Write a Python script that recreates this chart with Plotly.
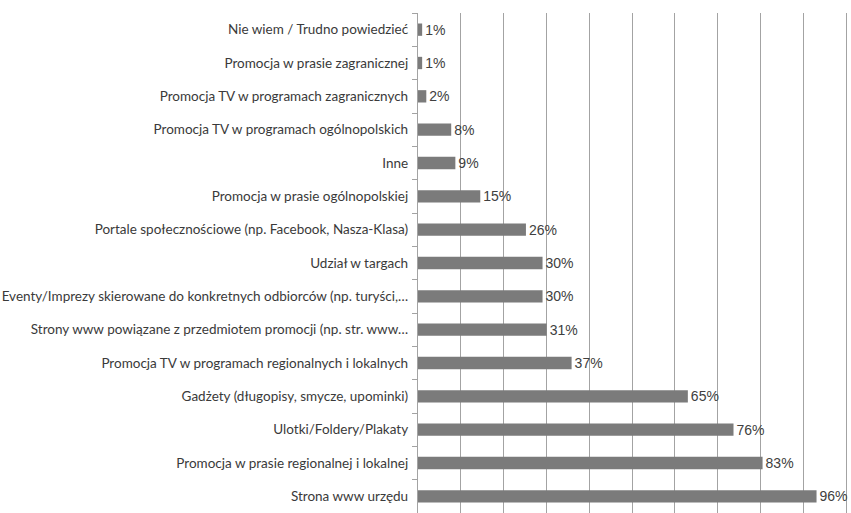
import plotly.graph_objects as go

categories = [
    "Nie wiem / Trudno powiedzieć",
    "Promocja w prasie zagranicznej",
    "Promocja TV w programach zagranicznych",
    "Promocja TV w programach ogólnopolskich",
    "Inne",
    "Promocja w prasie ogólnopolskiej",
    "Portale społecznościowe (np. Facebook, Nasza-Klasa)",
    "Udział w targach",
    "Eventy/Imprezy skierowane do konkretnych odbiorców (np. turyści,…",
    "Strony www powiązane z przedmiotem promocji (np. str. www…",
    "Promocja TV w programach regionalnych i lokalnych",
    "Gadżety (długopisy, smycze, upominki)",
    "Ulotki/Foldery/Plakaty",
    "Promocja w prasie regionalnej i lokalnej",
    "Strona www urzędu",
]
values = [1, 1, 2, 8, 9, 15, 26, 30, 30, 31, 37, 65, 76, 83, 96]
value_labels = [f"{v}%" for v in values]

GRID = "#a3a3a3"

fig = go.Figure(
    go.Bar(
        x=values,
        y=categories,
        orientation="h",
        marker=dict(color="#7b7b7b", line=dict(width=0)),
        text=value_labels,
        textposition="outside",
        constraintext="none",
        textfont=dict(family="Liberation Sans, Arial, sans-serif", size=14, color="#404040"),
        cliponaxis=False,
        width=0.37,
    )
)

fig.update_layout(
    width=851,
    height=513,
    margin=dict(l=418, r=0, t=13, b=0),
    paper_bgcolor="white",
    plot_bgcolor="white",
    showlegend=False,
    xaxis=dict(
        range=[0, 104.3],
        tick0=0,
        dtick=10.31,
        showgrid=True,
        gridcolor=GRID,
        gridwidth=1.3,
        zeroline=False,
        showticklabels=False,
        ticks="",
        showline=False,
    ),
    yaxis=dict(
        autorange="reversed",
        showline=True,
        linecolor=GRID,
        linewidth=1.3,
        ticks="outside",
        ticklen=5,
        tickcolor=GRID,
        tickwidth=1.3,
        tickson="boundaries",
        ticklabelstandoff=6,
        tickfont=dict(family="Lato, Calibri, sans-serif", size=13.5, color="#3a3a3a"),
        showgrid=False,
    ),
)

fig.write_html("out.html")
